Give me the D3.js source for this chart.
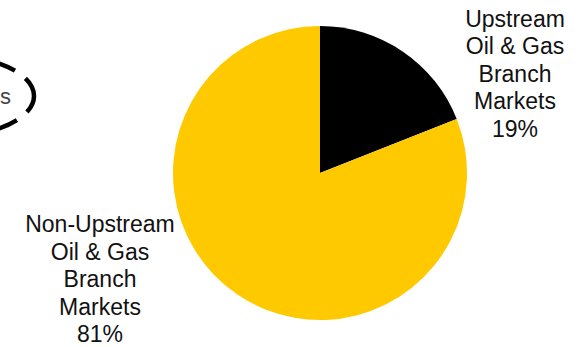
<!DOCTYPE html>
<html>
<head>
<meta charset="utf-8">
<script src="https://cdn.jsdelivr.net/npm/d3@7"></script>
<style>
  html, body { margin: 0; padding: 0; background: #fff; }
  svg { display: block; }
</style>
</head>
<body>
<svg id="chart" width="588" height="347"></svg>
<script>
// Share of branch markets
const categories = ["Upstream Oil & Gas Branch Markets", "Non-Upstream Oil & Gas Branch Markets"];
const shares = [19, 81];
const labelLines = [
  ["Upstream", "Oil & Gas", "Branch", "Markets"],
  ["Non-Upstream", "Oil & Gas", "Branch", "Markets"]
];
const colors = ["#000000", "#FFC900"];

const svg = d3.select("#chart");
const cx = 320, cy = 173, radius = 147;

const pie = d3.pie().sort(null).value(d => d)(shares);
const arc = d3.arc().innerRadius(0).outerRadius(radius);

svg.append("g")
  .attr("transform", `translate(${cx},${cy})`)
  .selectAll("path")
  .data(pie)
  .join("path")
  .attr("d", arc)
  .attr("fill", (d, i) => colors[i]);

// Slice labels
const labelPos = [
  { x: 515, y: 26.5 },
  { x: 100, y: 232 }
];
const lineH = 27.5;
labelPos.forEach((p, i) => {
  const t = svg.append("text")
    .attr("x", p.x)
    .attr("y", p.y)
    .attr("text-anchor", "middle")
    .attr("font-family", "Liberation Sans, Arial, sans-serif")
    .attr("font-size", 23)
    .attr("fill", "#111");
  labelLines[i].concat([shares[i] + "%"]).forEach((line, j) => {
    t.append("tspan").attr("x", p.x).attr("y", p.y + j * lineH).text(line);
  });
});

// Dashed callout ellipse at the left edge
svg.append("ellipse")
  .attr("cx", -50)
  .attr("cy", 96)
  .attr("rx", 84)
  .attr("ry", 40)
  .attr("fill", "none")
  .attr("stroke", "#000")
  .attr("stroke-width", 4.5)
  .attr("stroke-dasharray", "22,13")
  .attr("stroke-dashoffset", 4);

svg.append("text")
  .attr("x", 0)
  .attr("y", 104)
  .attr("text-anchor", "start")
  .attr("font-family", "Liberation Sans, Arial, sans-serif")
  .attr("font-size", 22)
  .attr("fill", "#444")
  .text("s");
</script>
</body>
</html>
